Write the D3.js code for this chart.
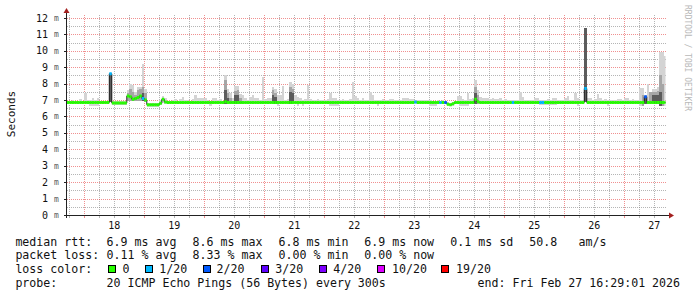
<!DOCTYPE html>
<html><head><meta charset="utf-8">
<script src="https://cdn.jsdelivr.net/npm/d3@7"></script>
<style>
html,body{margin:0;padding:0;background:#fff;}
svg{display:block;}
text{font-family:"DejaVu Sans Mono",monospace;}
</style>
</head><body>
<svg id="chart" width="697" height="297"></svg>
<script>
// ---------------- DATA (hourly bins, first bin = Feb 17 17:00 UTC) ----------------
const binStart = Date.UTC(2026, 1, 17, 17, 0, 0);
const endTime = Date.UTC(2026, 1, 27, 16, 29, 1);

// median RTT (ms)
const median = [
  6.85,6.85,6.85,6.85,6.85,6.85,6.85,
  6.85,6.85,6.85,6.85,6.85,6.85,6.85,6.85,6.85,6.85,8.6,6.82,6.82,6.82,6.82,6.82,6.82,7.25,7.2,7.05,7.1,7.15,7.25,7.1,
  7.0,6.72,6.72,6.72,6.72,6.72,6.8,7.05,6.88,6.85,6.85,6.85,6.85,6.85,6.85,6.85,6.85,6.85,6.85,6.85,6.85,6.85,6.85,6.85,
  6.85,6.85,6.85,6.85,6.85,6.85,6.85,6.85,6.9,6.85,6.85,6.85,6.85,6.85,6.85,6.85,6.85,6.85,6.85,6.85,6.85,6.85,6.85,6.85,
  6.85,6.85,6.85,6.85,6.85,6.85,6.85,6.85,6.85,6.85,6.85,6.85,6.85,6.85,6.85,6.85,6.85,6.85,6.85,6.85,6.85,6.85,6.85,6.85,
  6.85,6.85,6.85,6.85,6.85,6.85,6.85,6.85,6.85,6.85,6.85,6.85,6.85,6.85,6.85,6.85,6.85,6.85,6.85,6.85,6.85,6.85,6.85,6.85,
  6.85,6.85,6.85,6.85,6.85,6.85,6.85,6.85,6.85,6.85,6.85,6.85,6.88,6.85,6.85,6.85,6.85,6.85,6.85,6.85,6.85,6.85,6.85,6.85,
  6.85,6.75,6.72,6.78,6.85,6.85,6.85,6.85,6.85,6.85,6.85,6.85,7.05,6.9,6.85,6.85,6.85,6.85,6.85,6.85,6.85,6.85,6.85,6.85,
  6.85,6.85,6.85,6.85,6.85,6.85,6.85,6.85,6.85,6.85,6.85,6.85,6.85,6.85,6.85,6.85,6.85,6.85,6.85,6.85,6.85,6.85,6.85,6.85,
  6.85,6.85,6.85,6.85,6.85,6.85,6.85,6.85,7.7,6.85,6.85,6.85,6.85,6.85,6.85,6.85,6.85,6.85,6.85,6.85,6.85,6.85,6.85,6.85,
  6.85,6.85,6.85,6.85,6.85,6.85,6.85,6.85,7.2,6.85,6.85,6.85,6.85,6.85,6.85,6.85,6.85
];

// lost pings out of 20
const loss = [
  0,0,0,0,0,0,0,
  0,0,0,0,0,0,0,0,0,0,1,0,0,0,0,0,0,0,0,0,0,0,0,1,
  0,0,0,0,0,0,0,0,0,0,0,0,0,0,0,0,0,0,0,0,0,0,0,0,
  0,0,0,0,0,0,0,0,0,0,0,0,0,0,0,0,0,0,0,0,0,0,0,0,
  0,0,0,0,0,0,0,0,0,0,0,0,0,0,0,0,0,0,0,0,0,0,0,0,
  0,0,0,0,0,0,0,0,0,0,0,0,0,0,0,0,0,0,0,0,0,0,0,0,
  0,0,0,0,0,0,0,0,0,0,0,0,1,0,0,0,0,0,0,0,0,0,1,0,
  2,0,0,0,0,0,0,0,0,0,0,0,0,0,0,0,0,0,0,0,0,0,0,0,
  0,0,0,1,0,0,0,0,0,0,0,0,0,0,1,1,0,0,0,0,0,0,0,0,
  0,0,0,0,0,0,0,0,1,0,0,0,0,0,0,0,0,0,0,0,0,0,0,0,
  0,0,0,0,0,0,0,0,2,0,0,0,0,0,0,0,0
];

// smoke: maximum ping (ms)
const smokeMax = [
  6.95,6.95,7.0,6.95,6.95,7.05,6.95,
  7.45,7.0,7.0,7.1,7.0,7.1,6.95,6.95,6.95,6.95,8.65,6.95,6.95,6.95,6.95,6.95,6.95,7.6,8.0,7.9,7.5,7.8,7.8,9.2,
  7.7,6.85,6.85,6.85,6.85,6.85,7.0,7.25,7.1,6.95,6.95,7.0,7.05,6.95,7.05,7.2,7.0,7.0,6.95,7.05,7.3,7.1,7.15,7.1,
  7.1,7.0,6.95,7.15,7.15,7.0,7.05,6.95,8.5,7.7,7.4,7.1,7.85,7.85,7.35,7.3,7.1,7.0,7.2,7.3,7.1,7.1,7.0,8.4,
  7.05,7.1,7.1,7.8,7.7,7.3,7.3,7.85,7.0,7.05,8.1,8.0,7.3,7.2,7.1,7.0,7.05,7.9,7.05,7.0,7.0,7.05,7.0,7.0,
  7.0,7.05,7.4,7.1,7.1,7.0,7.0,7.05,7.0,7.0,7.05,8.1,7.25,7.1,7.0,7.1,7.0,7.0,7.5,7.3,7.0,7.0,7.0,7.05,
  7.0,7.0,7.05,7.05,7.0,7.0,7.0,7.1,7.1,7.1,7.05,7.05,7.0,7.0,7.0,7.0,7.0,7.0,7.0,6.95,6.95,7.0,6.95,7.0,
  6.95,6.9,6.85,6.9,6.95,7.25,7.25,7.05,7.0,7.45,7.05,7.1,8.25,7.6,7.2,7.15,7.1,7.1,7.05,7.1,7.05,7.05,7.1,7.0,
  7.05,7.0,7.0,7.0,7.0,7.0,7.5,7.2,7.0,7.0,7.0,7.0,7.1,7.1,7.0,7.0,7.0,7.05,7.0,7.1,7.1,7.0,7.0,7.0,
  7.15,7.25,7.0,7.0,7.45,7.1,7.0,7.0,11.4,7.15,7.1,7.0,7.05,7.35,7.1,7.0,7.05,7.0,7.0,7.0,7.0,7.05,7.05,7.0,
  7.1,7.1,7.0,7.05,7.0,7.0,7.75,7.75,7.3,8.0,7.5,7.65,7.65,7.8,9.95,9.95,9.7
];

// smoke: minimum ping (ms)
const smokeMin = [
  6.78,6.78,6.78,6.78,6.78,6.78,6.78,
  6.78,6.78,6.65,6.65,6.65,6.65,6.78,6.78,6.78,6.78,6.9,6.72,6.72,6.72,6.72,6.72,6.72,6.95,6.95,6.95,6.95,6.95,6.95,6.95,
  6.9,6.6,6.6,6.6,6.6,6.6,6.7,6.85,6.78,6.78,6.78,6.78,6.78,6.78,6.78,6.78,6.78,6.78,6.78,6.78,6.78,6.78,6.78,6.78,
  6.78,6.78,6.65,6.78,6.78,6.78,6.78,6.78,6.78,6.78,6.78,6.78,6.78,6.78,6.78,6.78,6.78,6.78,6.78,6.78,6.78,6.78,6.78,6.78,
  6.78,6.78,6.78,6.78,6.78,6.65,6.78,6.78,6.78,6.78,6.78,6.78,6.78,6.65,6.78,6.65,6.78,6.78,6.78,6.78,6.78,6.78,6.78,6.78,
  6.78,6.78,6.65,6.65,6.65,6.65,6.78,6.78,6.78,6.78,6.78,6.78,6.78,6.78,6.78,6.78,6.78,6.78,6.78,6.78,6.78,6.65,6.78,6.78,
  6.78,6.78,6.78,6.78,6.78,6.78,6.78,6.78,6.78,6.78,6.78,6.78,6.78,6.78,6.78,6.78,6.78,6.78,6.62,6.62,6.62,6.78,6.78,6.78,
  6.78,6.62,6.62,6.62,6.78,6.78,6.65,6.65,6.65,6.65,6.78,6.78,6.78,6.78,6.78,6.78,6.78,6.78,6.78,6.78,6.78,6.78,6.78,6.78,
  6.78,6.78,6.78,6.78,6.78,6.78,6.78,6.78,6.78,6.78,6.78,6.78,6.78,6.78,6.68,6.68,6.68,6.68,6.68,6.68,6.68,6.78,6.78,6.78,
  6.78,6.78,6.78,6.78,6.78,6.65,6.78,6.78,6.9,6.78,6.78,6.78,6.78,6.78,6.78,6.78,6.78,6.65,6.78,6.78,6.78,6.78,6.78,6.78,
  6.78,6.78,6.78,6.78,6.78,6.78,6.65,6.65,6.78,6.78,6.78,6.78,6.78,6.78,6.65,6.65,6.65
];

// smoke: upper bound of the denser (medium grey) band, 0 = none
const smokeMid = [
  0,0,0,0,0,0,0,
  0,0,0,0,0,0,0,0,0,0,0,0,0,0,0,0,0,7.4,7.7,7.5,7.3,7.6,7.7,7.8,
  7.4,0,0,0,0,0,0,0,0,0,0,0,0,0,0,0,0,0,0,0,0,0,0,0,
  0,0,0,0,0,0,0,0,8.2,7.4,7.1,0,7.55,7.6,7.1,0,0,0,0,0,0,0,0,0,
  0,0,0,7.6,7.4,0,0,0,0,0,7.8,7.7,0,0,0,0,0,0,0,0,0,0,0,0,
  0,0,0,0,0,0,0,0,0,0,0,0,0,0,0,0,0,0,0,0,0,0,0,0,
  0,0,0,0,0,0,0,0,0,0,0,0,0,0,0,0,0,0,0,0,0,0,0,0,
  0,0,0,0,0,0,0,0,0,0,0,0,7.8,7.3,0,0,0,0,0,0,0,0,0,0,
  0,0,0,0,0,0,0,0,0,0,0,0,0,0,0,0,0,0,0,0,0,0,0,0,
  0,0,0,0,0,0,0,0,0,0,0,0,0,0,0,0,0,0,0,0,0,0,0,0,
  0,0,0,0,0,0,0,7.3,0,0,7.5,7.5,7.5,7.55,8.5,8.0,0
];

// smoke: upper bound of the darkest band, 0 = none
const smokeDark = [
  0,0,0,0,0,0,0,
  0,0,0,0,0,0,0,0,0,0,8.6,0,0,0,0,0,0,0,0,0,0,0,0,7.4,
  0,0,0,0,0,0,0,0,0,0,0,0,0,0,0,0,0,0,0,0,0,0,0,0,
  0,0,0,0,0,0,0,0,7.6,7.1,0,0,7.3,7.3,0,0,0,0,0,0,0,0,0,0,
  0,0,0,7.3,7.2,0,0,0,0,0,7.5,7.4,0,0,0,0,0,0,0,0,0,0,0,0,
  0,0,0,0,0,0,0,0,0,0,0,0,0,0,0,0,0,0,0,0,0,0,0,0,
  0,0,0,0,0,0,0,0,0,0,0,0,0,0,0,0,0,0,0,0,0,0,0,0,
  0,0,0,0,0,0,0,0,0,0,0,0,7.4,0,0,0,0,0,0,0,0,0,0,0,
  0,0,0,0,0,0,0,0,0,0,0,0,0,0,0,0,0,0,0,0,0,0,0,0,
  0,0,0,0,0,0,0,0,11.4,0,0,0,0,0,0,0,0,0,0,0,0,0,0,0,
  0,0,0,0,0,0,0,0,7.2,0,0,7.3,7.3,7.3,7.5,0,0
];

const yTicks = [0,1,2,3,4,5,6,7,8,9,10,11,12];
const dayLabels = ["18","19","20","21","22","23","24","25","26","27"];
const rttStats = ["6.9 ms avg","8.6 ms max","6.8 ms min","6.9 ms now","0.1 ms sd","50.8","am/s"];
const lossStats = ["0.11 % avg","8.33 % max","0.00 % min","0.00 % now"];
const lossNames = ["0","1/20","2/20","3/20","4/20","10/20","19/20"];
const lossColors = ["#26ff00","#00b8ff","#0059ff","#5e00ff","#7e00ff","#dd00ff","#ff0000"];
const probeText = "20 ICMP Echo Pings (56 Bytes) every 300s";
const endText = "end: Fri Feb 27 16:29:01 2026";

// ---------------- LAYOUT ----------------
const HOUR = 3600e3;
const X0 = 67, X1 = 667, YT = 15, YB = 215;
const domStart = Date.UTC(2026, 1, 17, 17, 5, 0);
const x = d3.scaleUtc().domain([new Date(domStart), new Date(domStart + 240*HOUR)]).range([X0, X1]);
const y = d3.scaleLinear().domain([0, 12.18]).range([YB, YT]);
const svg = d3.select("#chart");
svg.append("rect").attr("width",697).attr("height",297).attr("fill","#fff");

const snap = v => Math.round(v) + 0.5;
const grid = svg.append("g").attr("shape-rendering","crispEdges");
const minorCol = "rgba(120,120,120,0.55)", majorCol = "rgba(230,70,70,0.6)";

// vertical grid
const vMinor = d3.utcHour.every(6).range(new Date(domStart), new Date(domStart + 240*HOUR)).filter(d => d.getUTCHours() !== 0);
const vMajor = d3.utcDay.range(new Date(domStart), new Date(domStart + 240*HOUR));
grid.selectAll(".vmin").data(vMinor).join("line")
  .attr("x1", d => snap(x(d))).attr("x2", d => snap(x(d))).attr("y1", YT).attr("y2", YB)
  .attr("stroke", minorCol).attr("stroke-dasharray","1,1");
grid.selectAll(".vmaj").data(vMajor).join("line")
  .attr("x1", d => snap(x(d))).attr("x2", d => snap(x(d))).attr("y1", YT).attr("y2", YB)
  .attr("stroke", majorCol).attr("stroke-dasharray","1,1");
// horizontal grid
const hMinor = yTicks.slice(0, -1).map(v => v + 0.5);
grid.selectAll(".hmin").data(hMinor).join("line")
  .attr("x1", X0).attr("x2", X1).attr("y1", d => snap(y(d))).attr("y2", d => snap(y(d)))
  .attr("stroke", minorCol).attr("stroke-dasharray","1,1");
grid.selectAll(".hmaj").data(yTicks.slice(1)).join("line")
  .attr("x1", X0).attr("x2", X1).attr("y1", d => snap(y(d))).attr("y2", d => snap(y(d)))
  .attr("stroke", majorCol).attr("stroke-dasharray","1,1");

// clip for data
svg.append("clipPath").attr("id","plotclip").append("rect")
  .attr("x", X0).attr("y", YT - 5).attr("width", x(new Date(endTime)) - X0).attr("height", YB - YT + 5);

const bins = median.map((m, i) => ({
  t0: new Date(binStart + i*HOUR), t1: new Date(binStart + (i+1)*HOUR),
  med: m, loss: loss[i], lo: smokeMin[i], hi: smokeMax[i], mid: smokeMid[i], dk: smokeDark[i]
}));

const data = svg.append("g").attr("clip-path","url(#plotclip)");
const smoke = data.append("g").attr("shape-rendering","crispEdges");
function band(sel, top, fill) {
  sel.selectAll(null).data(bins.filter(b => top(b) > b.lo)).join("rect")
    .attr("x", b => x(b.t0)).attr("width", b => x(b.t1) - x(b.t0))
    .attr("y", b => y(top(b))).attr("height", b => y(b.lo) - y(top(b)))
    .attr("fill", fill);
}
band(smoke, b => b.hi, "#d4d4d4");
band(smoke, b => b.mid, "#a6a6a6");
band(smoke, b => b.dk, "#5c5c5c");

// median: thin dark step line, then loss-coloured thick segments
const pts = bins.map(b => [b.t0, b.med]).concat([[bins[bins.length-1].t1, bins[bins.length-1].med]]);
data.append("path")
  .attr("d", d3.line().x(p => x(p[0])).y(p => y(p[1])).curve(d3.curveStepAfter)(pts))
  .attr("fill","none").attr("stroke","#202020").attr("stroke-width",1);
data.append("g").selectAll("line").data(bins).join("line")
  .attr("x1", b => x(b.t0)).attr("x2", b => x(b.t1))
  .attr("y1", b => y(b.med)).attr("y2", b => y(b.med))
  .attr("stroke", b => lossColors[b.loss]).attr("stroke-width", 3);

// axes
const ax = svg.append("g").attr("shape-rendering","crispEdges");
ax.append("line").attr("x1", X0 - 0.5).attr("x2", X0 - 0.5).attr("y1", 12).attr("y2", YB + 3).attr("stroke","#222");
ax.append("line").attr("x1", X0 - 3).attr("x2", X1 + 2).attr("y1", YB + 0.5).attr("y2", YB + 0.5).attr("stroke","#222");
ax.selectAll(".yt").data(yTicks).join("line")
  .attr("x1", X0 - 3).attr("x2", X0).attr("y1", d => snap(y(d))).attr("y2", d => snap(y(d))).attr("stroke","#222");
ax.selectAll(".xt").data(vMinor.concat(vMajor)).join("line")
  .attr("x1", d => snap(x(d))).attr("x2", d => snap(x(d))).attr("y1", YB + 1).attr("y2", YB + 3)
  .attr("stroke", d => d.getUTCHours() === 0 ? majorCol : minorCol);
// arrows
svg.append("path").attr("d", `M${X0-0.5},8 L${X0-3.5},13 L${X0+2.5},13 Z`).attr("fill","#a3201f");
svg.append("path").attr("d", `M${X1+7},${YB+0.5} L${X1+2},${YB-2.5} L${X1+2},${YB+3.5} Z`).attr("fill","#a3201f");

// y labels
const yl = svg.append("g");
yl.selectAll(".yn").data(yTicks).join("text")
  .attr("x", 48).attr("y", d => y(d) + 3.6).attr("text-anchor","end")
  .attr("font-size", 10).attr("fill","#111").text(d => d);
yl.selectAll(".ym").data(yTicks).join("text")
  .attr("x", 54).attr("y", d => y(d) + 3).attr("font-size", 8).attr("fill","#5a5a5a").text("m");
// x labels (centered at noon)
svg.append("g").selectAll("text").data(dayLabels).join("text")
  .attr("x", (d, i) => x(new Date(Date.UTC(2026, 1, 18 + i, 12))))
  .attr("y", 228.5).attr("text-anchor","middle").attr("font-size", 10).attr("fill","#111").text(d => d);

// axis title and watermark
svg.append("text").attr("transform","translate(15.3,114) rotate(-90)").attr("text-anchor","middle")
  .attr("font-size", 11).attr("fill","#111").text("Seconds");
svg.append("text").attr("transform","translate(684.5,5) rotate(90)")
  .attr("font-size", 8).attr("fill","#b8b8b8").text("RRDTOOL / TOBI OETIKER");

// legend
const lg = svg.append("g").attr("font-size", 11.6).attr("fill","#111");
const rowY = [245.5, 259.4, 273.3, 287.2];
lg.append("text").attr("x", 15.4).attr("y", rowY[0]).text("median rtt:");
const rttX = [106.6, 192.6, 278.6, 364.3, 450.3, 529.3, 578.6];
rttStats.forEach((s, i) => lg.append("text").attr("x", rttX[i]).attr("y", rowY[0]).text(s));
lg.append("text").attr("x", 15.4).attr("y", rowY[1]).text("packet loss:");
const lossX = [106.6, 192.6, 278.6, 364.3];
lossStats.forEach((s, i) => lg.append("text").attr("x", lossX[i]).attr("y", rowY[1]).text(s));
lg.append("text").attr("x", 15.4).attr("y", rowY[2]).text("loss color:");
const swX = [108.5, 145.9, 203.5, 261.9, 319.5, 377.9, 441.9];
const swLX = [122.6, 159.3, 216.6, 275.3, 333.3, 392.0, 456.0];
lossNames.forEach((s, i) => {
  lg.append("rect").attr("x", swX[i]).attr("y", 265.5).attr("width", 7).attr("height", 7)
    .attr("fill", lossColors[i]).attr("stroke","#000").attr("stroke-width",1).attr("shape-rendering","crispEdges");
  lg.append("text").attr("x", swLX[i]).attr("y", rowY[2]).text(s);
});
lg.append("text").attr("x", 15.4).attr("y", rowY[3]).text("probe:");
lg.append("text").attr("x", 106.6).attr("y", rowY[3]).text(probeText);
lg.append("text").attr("x", 477.6).attr("y", rowY[3]).text(endText);
</script>
</body></html>
